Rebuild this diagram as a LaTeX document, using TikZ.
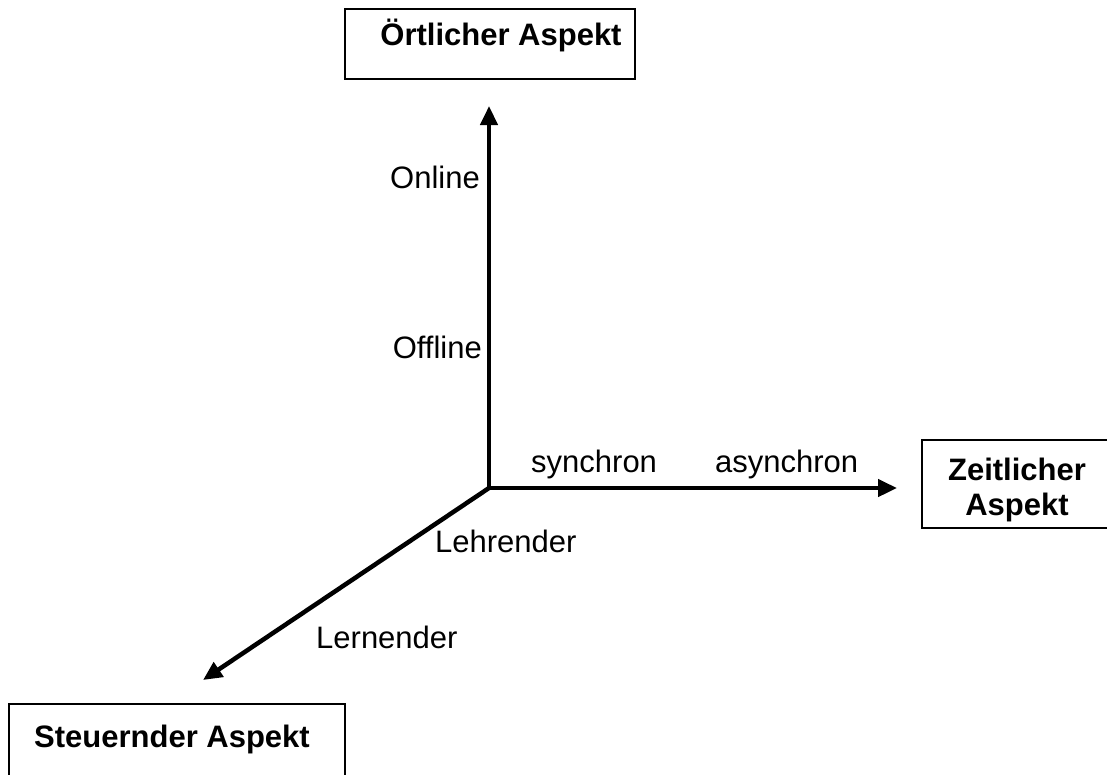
\documentclass[tikz,border=0pt]{standalone}
\usepackage{fontspec}
\setmainfont{Liberation Sans}
\usetikzlibrary{arrows.meta,positioning}

\begin{document}
\begin{tikzpicture}[x=1pt, y=-1pt,
    aspect/.style={rectangle, draw=black, line width=1.5pt},
    title/.style={font=\fontsize{31}{35}\selectfont\bfseries, align=center, inner sep=0pt},
    lbl/.style={font=\fontsize{31}{35}\selectfont, inner sep=0pt},
    axis/.style={-{Triangle[length=19pt,width=17pt]}, line width=4.5pt}
]
    \clip (0,0) rectangle (1107,774);
    \fill[white] (0,0) rectangle (1107,774);

    % the three aspect boxes
    \node[aspect, minimum width=290pt, minimum height=70pt] (ort) at (490,44) {};
    \node[title, anchor=base] (ortText) at (501,45) {Örtlicher Aspekt};
    \node[aspect, minimum width=190pt, minimum height=88pt] (zeit) at (1017,484) {};
    \node[title] (zeitText) at (1017,490) {Zeitlicher\\Aspekt};
    \node[aspect, minimum width=336pt, minimum height=96pt] (steuer) at (177,752) {};
    \node[title, anchor=base west] (steuerText) at (34,747) {Steuernder Aspekt};

    % axes
    \coordinate (O) at (489,488);
    \coordinate (up) at (489,106);
    \coordinate (right) at (897,488);
    \coordinate (down) at (203,680);
    \draw[axis] (O) -- (up);
    \draw[axis] (O) -- (right);
    \draw[axis] (O) -- (down);

    % axis labels
    \node[lbl, anchor=base east] (online) at (480,188) {Online};
    \node[lbl, anchor=base east] (offline) at (482,358) {Offline};
    \node[lbl, anchor=base west] (sync) at (531,472) {synchron};
    \node[lbl, anchor=base west] (async) at (715,472) {asynchron};
    \node[lbl, anchor=base west] (lehrend) at (435,552) {Lehrender};
    \node[lbl, anchor=base west] (lernend) at (316,648) {Lernender};
\end{tikzpicture}
\end{document}
